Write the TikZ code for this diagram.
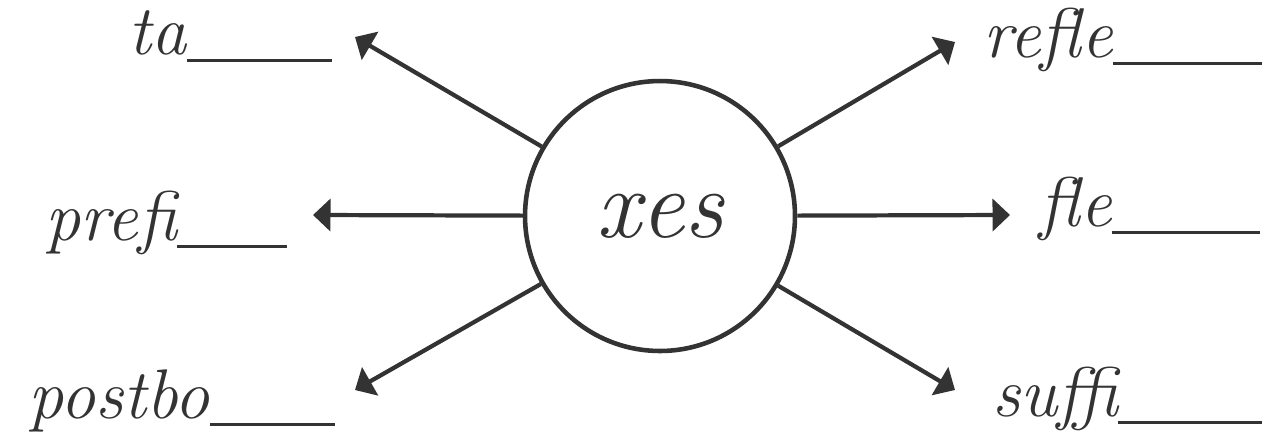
\documentclass[tikz,border=0pt]{standalone}
\usepackage{fontspec}
\usetikzlibrary{arrows.meta}
\definecolor{ink}{HTML}{333333}
\newcommand{\blank}[1]{\rule[-1.6mm]{#1}{0.6mm}}
\tikzset{
  hub/.style   = {circle, draw=ink, line width=2.6pt, minimum size=5.4cm, inner sep=0pt,
                  text=ink, font=\fontsize{56}{60}\selectfont\itshape},
  word/.style  = {anchor=base east, inner sep=0pt, text=ink,
                  font=\fontsize{40}{44}\selectfont\itshape},
  spoke/.style = {-{Triangle[length=3.5mm, width=6.4mm]}, line width=2.4pt, draw=ink},
}
\begin{document}
\begin{tikzpicture}[x=0.02cm, y=-0.02cm]
  \useasboundingbox (0,0) rectangle (1266,437);

  \node[hub] (hub) at (660,216) {xes};

  % arrow tips
  \coordinate (tipTa)    at (355,37);
  \coordinate (tipPrefi) at (313,215);
  \coordinate (tipPost)  at (355,390);
  \coordinate (tipRefle) at (955,42);
  \coordinate (tipFle)   at (1010,215);
  \coordinate (tipSuffi) at (955,390);

  % words with blanks
  \node[word] (wTa)    at (332,54)   {ta\blank{2.9cm}};
  \node[word] (wPrefi) at (287,240)  {prefi\blank{2.2cm}};
  \node[word] (wPost)  at (335,418)  {postbo\blank{2.5cm}};
  \node[word] (wRefle) at (1262,57)  {refle\blank{2.98cm}};
  \node[word] (wFle)   at (1260,226) {fle\blank{2.96cm}};
  \node[word] (wSuffi) at (1262,416) {suffi\blank{2.88cm}};

  % spokes
  \draw[spoke] (hub) -- (tipTa);
  \draw[spoke] (hub) -- (tipPrefi);
  \draw[spoke] (hub) -- (tipPost);
  \draw[spoke] (hub) -- (tipRefle);
  \draw[spoke] (hub) -- (tipFle);
  \draw[spoke] (hub) -- (tipSuffi);

\end{tikzpicture}
\end{document}
